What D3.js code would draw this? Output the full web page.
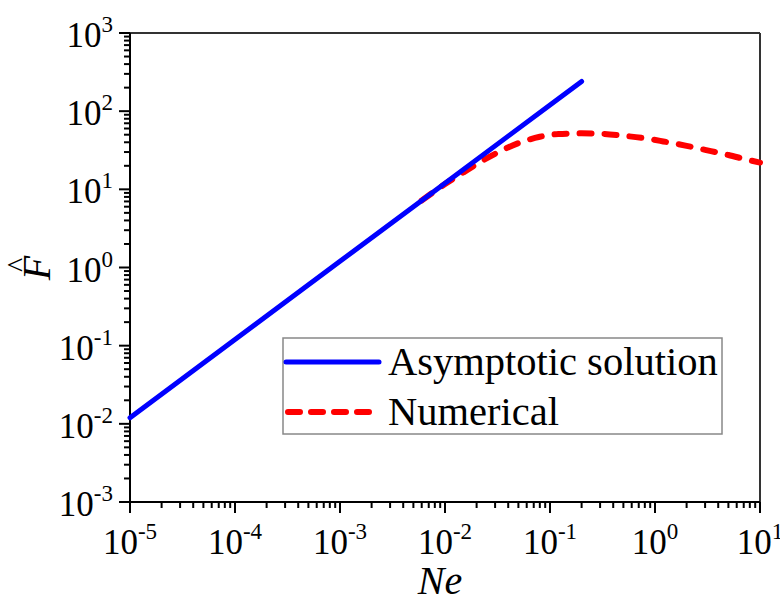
<!DOCTYPE html>
<html><head><meta charset="utf-8">
<script src="https://cdn.jsdelivr.net/npm/d3@7/dist/d3.min.js"></script>
<style>body{margin:0;background:#fff}svg{display:block}</style>
</head><body><svg id="c" width="780" height="601"></svg>
<script>
const asymNe = [1e-5, 1e-4, 1e-3, 1e-2, 0.1, 0.2];
const asymF  = [0.012, 0.12, 1.2, 12, 120, 240];
const numNe = [0.006, 0.008, 0.01, 0.015, 0.02, 0.03, 0.05, 0.08, 0.12, 0.2, 0.3, 0.5, 0.8, 1.2, 2, 3, 5, 8, 10];
const numF  = [7.2, 9.5, 11.7, 16.5, 21, 28.5, 39, 47, 51, 52, 51.5, 48.5, 45, 41, 36, 32, 27.5, 23.5, 22];
const xTickExps = [-5, -4, -3, -2, -1, 0, 1];
const yTickExps = [-3, -2, -1, 0, 1, 2, 3];
const legendLabels = ["Asymptotic solution", "Numerical"];

const FONT = "Liberation Serif";
const svg = d3.select("#c");
const L = 130, R = 760, T = 33, B = 502;
const x = d3.scaleLog().domain([1e-5, 10]).range([L, R]);
const y = d3.scaleLog().domain([1e-3, 1e3]).range([B, T]);

function minors(lo, hi){ const a=[]; for(let e=lo;e<hi;e++) for(let k=2;k<=9;k++) a.push(k*Math.pow(10,e)); return a; }
const g = svg.append("g");
minors(-5,1).forEach(v=>g.append("line").attr("x1",x(v)).attr("x2",x(v)).attr("y1",B).attr("y2",B+6).attr("stroke","#000").attr("stroke-width",2));
minors(-3,3).forEach(v=>g.append("line").attr("y1",y(v)).attr("y2",y(v)).attr("x1",L).attr("x2",L-6).attr("stroke","#000").attr("stroke-width",2));
xTickExps.forEach(e=>{
  const v=Math.pow(10,e);
  g.append("line").attr("x1",x(v)).attr("x2",x(v)).attr("y1",B).attr("y2",B+11).attr("stroke","#000").attr("stroke-width",2);
  const t=g.append("text").attr("x",x(v)).attr("y",B+52).attr("text-anchor","middle").attr("font-size",35).attr("font-family",FONT);
  t.append("tspan").text("10");
  t.append("tspan").attr("dy",-15).attr("font-size",23).text(String(e));
});
yTickExps.forEach(e=>{
  const v=Math.pow(10,e);
  g.append("line").attr("y1",y(v)).attr("y2",y(v)).attr("x1",L).attr("x2",L-11).attr("stroke","#000").attr("stroke-width",2);
  const t=g.append("text").attr("x",113).attr("y",y(v)+14).attr("text-anchor","end").attr("font-size",35).attr("font-family",FONT);
  t.append("tspan").text("10");
  t.append("tspan").attr("dy",-15).attr("font-size",23).text(String(e));
});

svg.append("line").attr("x1",L).attr("x2",R).attr("y1",T).attr("y2",T).attr("stroke","#333").attr("stroke-width",2);
svg.append("line").attr("x1",R).attr("x2",R).attr("y1",T).attr("y2",B).attr("stroke","#333").attr("stroke-width",2);
svg.append("line").attr("x1",L).attr("x2",R).attr("y1",B).attr("y2",B).attr("stroke","#000").attr("stroke-width",2);
svg.append("line").attr("x1",L).attr("x2",L).attr("y1",T).attr("y2",B).attr("stroke","#000").attr("stroke-width",2);

const line = d3.line().curve(d3.curveMonotoneX);
svg.append("clipPath").attr("id","cp").append("rect").attr("x",L).attr("y",T).attr("width",R-L+3).attr("height",B-T);
svg.append("path").attr("clip-path","url(#cp)")
  .attr("d", line(numNe.map((v,i)=>[x(v), y(numF[i])])))
  .attr("fill","none").attr("stroke","#ff0000").attr("stroke-width",6).attr("stroke-linecap","round").attr("stroke-dasharray","12,13");
svg.append("path")
  .attr("d", d3.line()(asymNe.map((v,i)=>[x(v), y(asymF[i])])))
  .attr("fill","none").attr("stroke","#0000ff").attr("stroke-width",5).attr("stroke-linecap","round");

const lg = svg.append("g");
lg.append("rect").attr("x",283).attr("y",338).attr("width",439).attr("height",96).attr("fill","#fff").attr("stroke","#888").attr("stroke-width",1.5);
lg.append("line").attr("x1",286).attr("x2",379).attr("y1",362).attr("y2",362).attr("stroke","#0000ff").attr("stroke-width",5).attr("stroke-linecap","round");
lg.append("line").attr("x1",288).attr("x2",370).attr("y1",412).attr("y2",412).attr("stroke","#ff0000").attr("stroke-width",6).attr("stroke-linecap","round").attr("stroke-dasharray","12,11");
lg.append("text").attr("x",388).attr("y",375).attr("font-size",40.5).attr("font-family",FONT).text(legendLabels[0]);
lg.append("text").attr("x",388).attr("y",425).attr("font-size",40.5).attr("font-family",FONT).text(legendLabels[1]);

svg.append("text").attr("x",440).attr("y",594).attr("text-anchor","middle").attr("font-size",40).attr("font-style","italic").attr("font-family",FONT).text("Ne");
const yt = svg.append("g").attr("transform","translate(50,268) rotate(-90)");
yt.append("text").attr("x",0).attr("y",0).attr("text-anchor","middle").attr("font-size",40).attr("font-style","italic").attr("font-family",FONT).text("F");
yt.append("text").attr("x",3).attr("y",-22).attr("text-anchor","middle").attr("font-size",30).attr("font-family",FONT).text("^");
</script></body></html>
